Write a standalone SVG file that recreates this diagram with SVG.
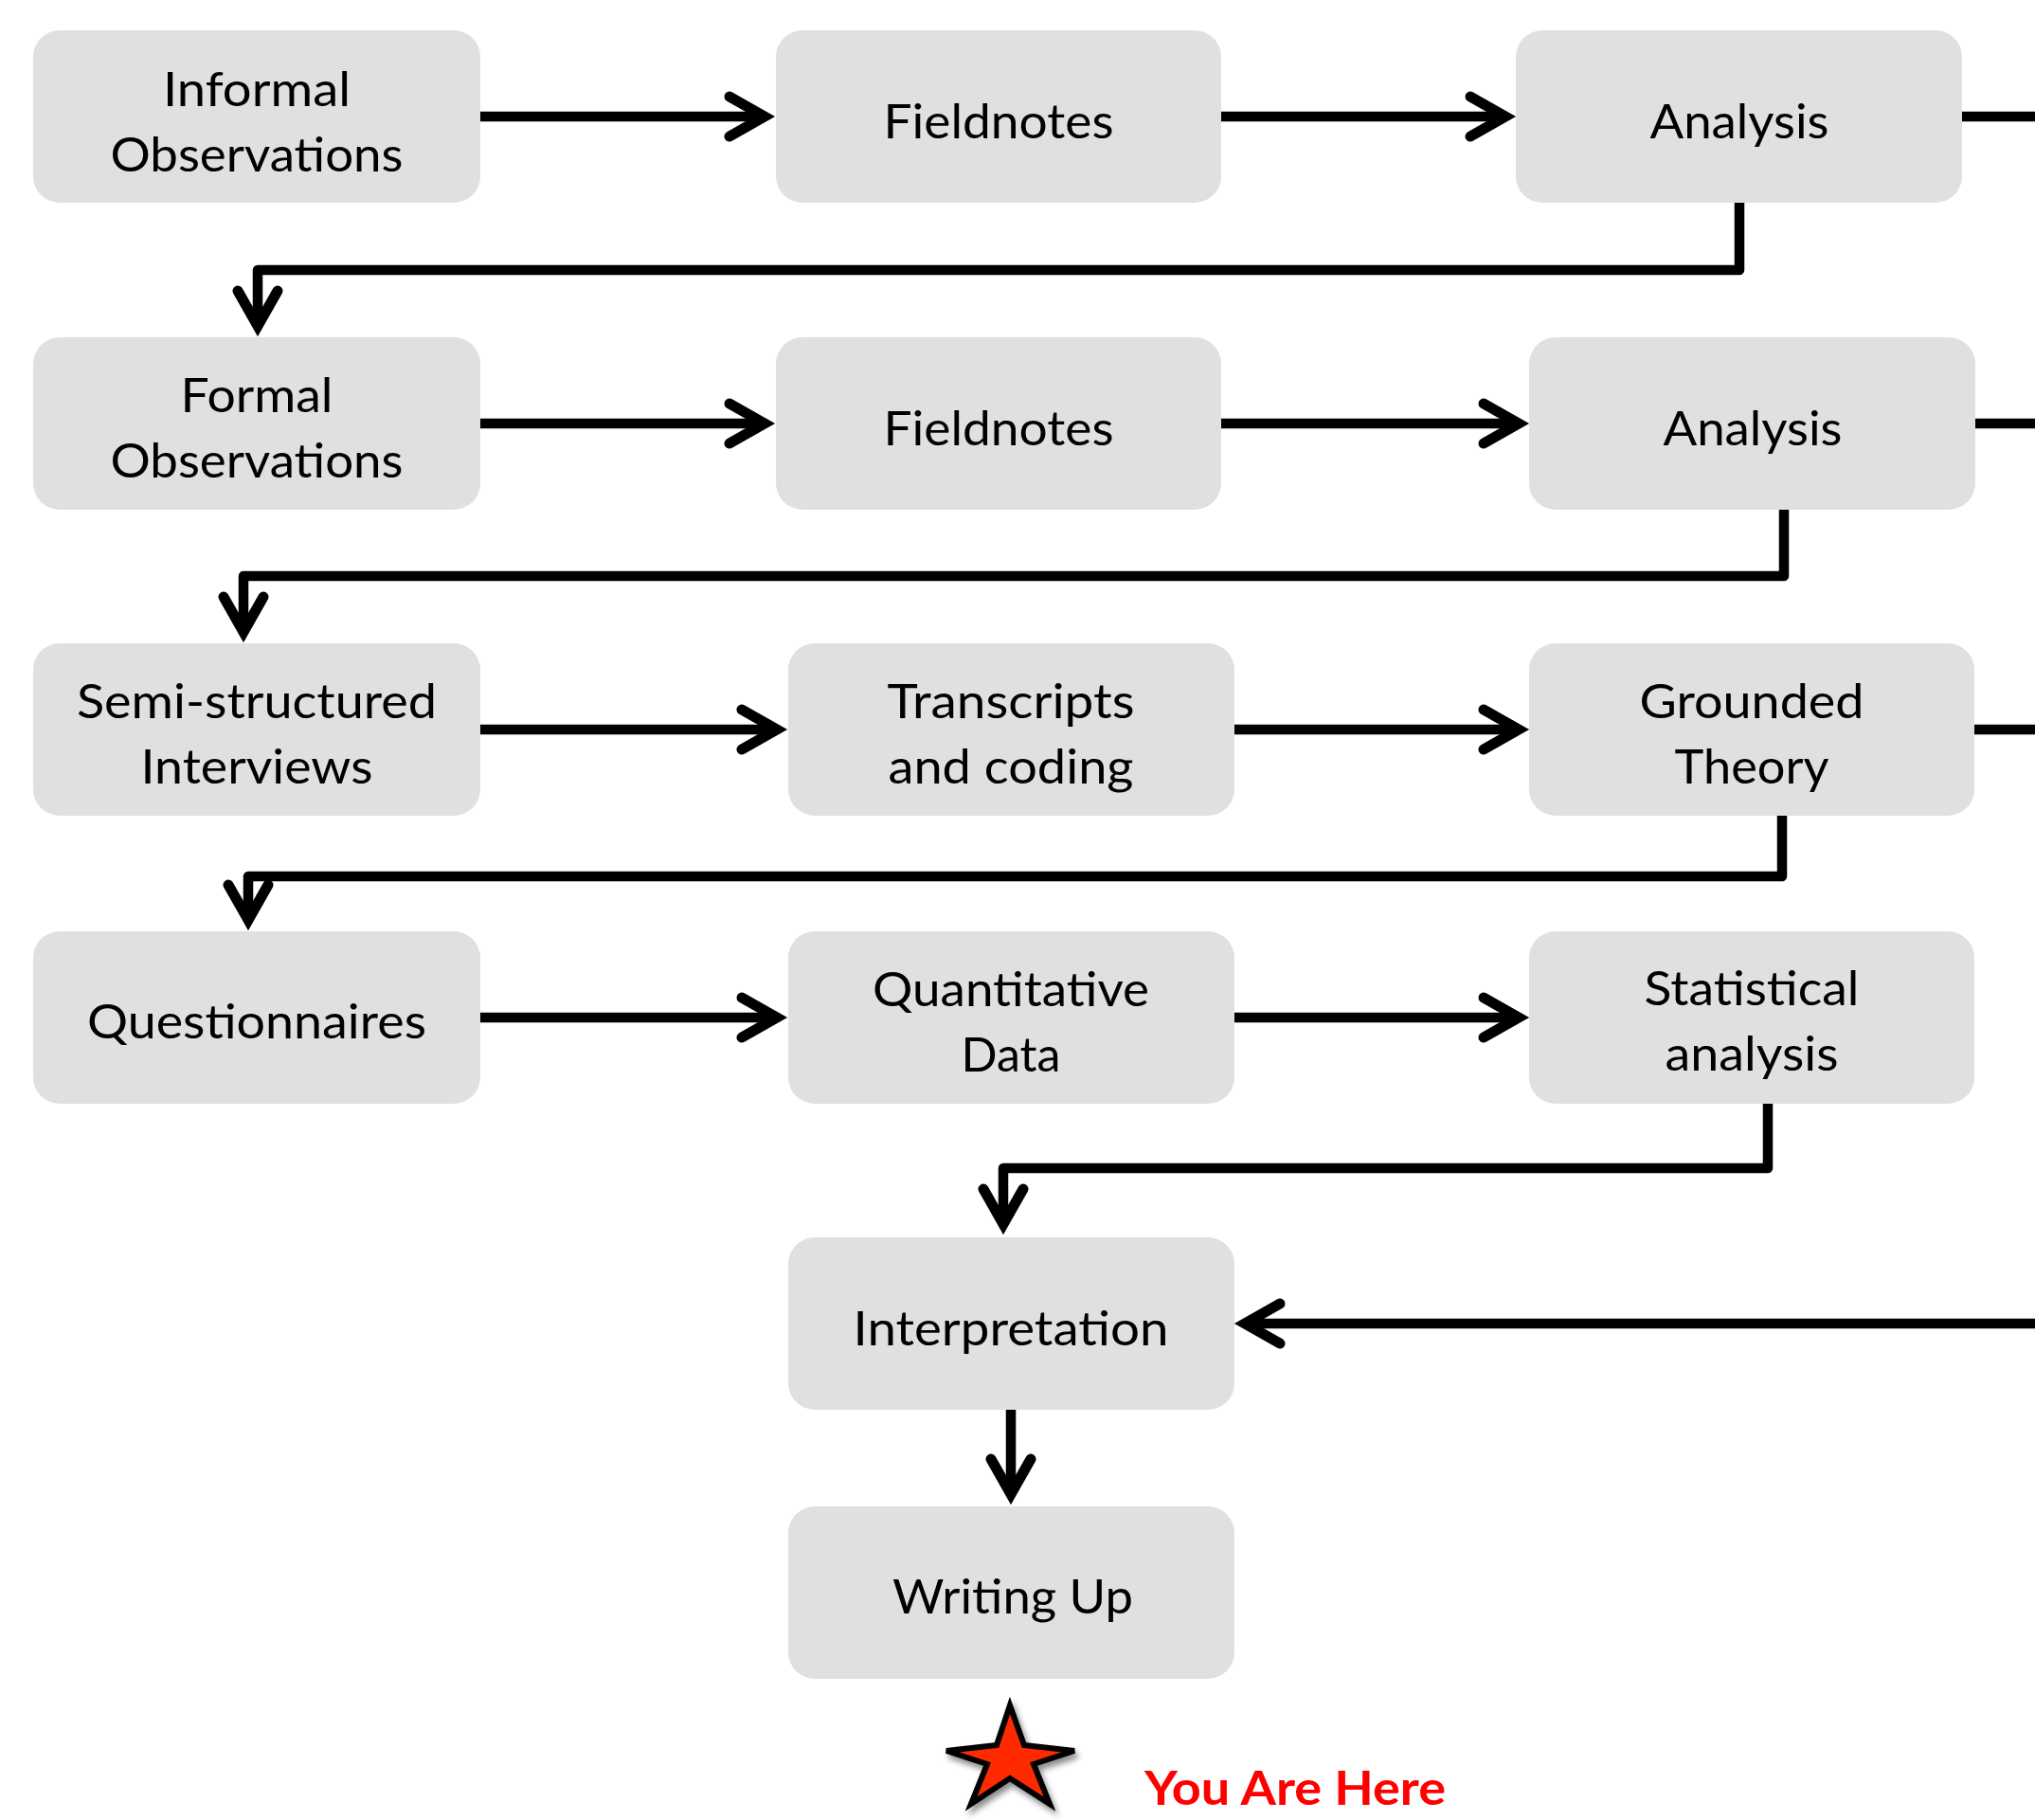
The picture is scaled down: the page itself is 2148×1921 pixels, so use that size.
<svg xmlns="http://www.w3.org/2000/svg" width="2148" height="1921" viewBox="0 0 2148 1921">
  <style>
    .box { fill: #E0E0E0; }
    .lbl { font-family: Lato, "Liberation Sans", sans-serif; font-size: 50px; fill: #000; text-anchor: middle; }
    .conn { fill: none; stroke: #000; stroke-width: 10.5; stroke-linejoin: round; stroke-linecap: butt; }
    .here { font-family: Lato, "Liberation Sans", sans-serif; font-size: 50px; font-weight: bold; fill: #FF0000; }
  </style>
  <defs>
    <marker id="ah" markerUnits="userSpaceOnUse" viewBox="-50 -30 70 60" refX="0" refY="0" markerWidth="70" markerHeight="60" orient="auto" overflow="visible">
      <path d="M-37,-21 L0,0 L-37,21" fill="none" stroke="#000" stroke-width="11" stroke-linecap="round" stroke-linejoin="miter"/>
    </marker>
    <filter id="sh" x="-20%" y="-20%" width="150%" height="150%">
      <feDropShadow dx="3" dy="5" stdDeviation="3" flood-color="#000" flood-opacity="0.45"/>
    </filter>
  </defs>

  <g id="connectors">
    <line class="conn" x1="507" y1="123" x2="807" y2="123" marker-end="url(#ah)"/>
    <line class="conn" x1="1289" y1="123" x2="1589" y2="123" marker-end="url(#ah)"/>
    <line class="conn" x1="2071" y1="123" x2="2148" y2="123"/>
    <path class="conn" d="M1836,214 V285 H272 V344" marker-end="url(#ah)"/>

    <line class="conn" x1="507" y1="447" x2="807" y2="447" marker-end="url(#ah)"/>
    <line class="conn" x1="1289" y1="447" x2="1603" y2="447" marker-end="url(#ah)"/>
    <line class="conn" x1="2085" y1="447" x2="2148" y2="447"/>
    <path class="conn" d="M1883,538 V608 H257 V667" marker-end="url(#ah)"/>

    <line class="conn" x1="507" y1="770" x2="820" y2="770" marker-end="url(#ah)"/>
    <line class="conn" x1="1303" y1="770" x2="1603" y2="770" marker-end="url(#ah)"/>
    <line class="conn" x1="2084" y1="770" x2="2148" y2="770"/>
    <path class="conn" d="M1881,861 V925 H262 V971" marker-end="url(#ah)"/>

    <line class="conn" x1="507" y1="1074" x2="820" y2="1074" marker-end="url(#ah)"/>
    <line class="conn" x1="1303" y1="1074" x2="1603" y2="1074" marker-end="url(#ah)"/>
    <path class="conn" d="M1866,1164 V1233 H1059 V1292" marker-end="url(#ah)"/>

    <line class="conn" x1="2148" y1="1397" x2="1314" y2="1397" marker-end="url(#ah)"/>
    <line class="conn" x1="1067" y1="1488" x2="1067" y2="1577" marker-end="url(#ah)"/>
  </g>

  <g id="n1"><rect class="box" x="35" y="32" width="472" height="182" rx="28"/>
    <text class="lbl" x="271" y="112" textLength="198" lengthAdjust="spacingAndGlyphs">Informal</text>
    <text class="lbl" x="271" y="181" textLength="309" lengthAdjust="spacingAndGlyphs">Observations</text></g>
  <g id="n2"><rect class="box" x="819" y="32" width="470" height="182" rx="28"/>
    <text class="lbl" x="1054" y="146" textLength="243" lengthAdjust="spacingAndGlyphs">Fieldnotes</text></g>
  <g id="n3"><rect class="box" x="1600" y="32" width="471" height="182" rx="28"/>
    <text class="lbl" x="1836" y="146" textLength="189" lengthAdjust="spacingAndGlyphs">Analysis</text></g>

  <g id="n4"><rect class="box" x="35" y="356" width="472" height="182" rx="28"/>
    <text class="lbl" x="271" y="435" textLength="161" lengthAdjust="spacingAndGlyphs">Formal</text>
    <text class="lbl" x="271" y="504" textLength="309" lengthAdjust="spacingAndGlyphs">Observations</text></g>
  <g id="n5"><rect class="box" x="819" y="356" width="470" height="182" rx="28"/>
    <text class="lbl" x="1054" y="470" textLength="243" lengthAdjust="spacingAndGlyphs">Fieldnotes</text></g>
  <g id="n6"><rect class="box" x="1614" y="356" width="471" height="182" rx="28"/>
    <text class="lbl" x="1850" y="470" textLength="189" lengthAdjust="spacingAndGlyphs">Analysis</text></g>

  <g id="n7"><rect class="box" x="35" y="679" width="472" height="182" rx="28"/>
    <text class="lbl" x="271" y="758" textLength="380" lengthAdjust="spacingAndGlyphs">Semi-structured</text>
    <text class="lbl" x="271" y="827" textLength="245" lengthAdjust="spacingAndGlyphs">Interviews</text></g>
  <g id="n8"><rect class="box" x="832" y="679" width="471" height="182" rx="28"/>
    <text class="lbl" x="1067" y="758" textLength="261" lengthAdjust="spacingAndGlyphs">Transcripts</text>
    <text class="lbl" x="1067" y="827" textLength="259" lengthAdjust="spacingAndGlyphs">and coding</text></g>
  <g id="n9"><rect class="box" x="1614" y="679" width="470" height="182" rx="28"/>
    <text class="lbl" x="1849" y="758" textLength="237" lengthAdjust="spacingAndGlyphs">Grounded</text>
    <text class="lbl" x="1849" y="827" textLength="163" lengthAdjust="spacingAndGlyphs">Theory</text></g>

  <g id="n10"><rect class="box" x="35" y="983" width="472" height="182" rx="28"/>
    <text class="lbl" x="271" y="1096" textLength="358" lengthAdjust="spacingAndGlyphs">Questionnaires</text></g>
  <g id="n11"><rect class="box" x="832" y="983" width="471" height="182" rx="28"/>
    <text class="lbl" x="1067" y="1062" textLength="292" lengthAdjust="spacingAndGlyphs">Quantitative</text>
    <text class="lbl" x="1067" y="1131" textLength="105" lengthAdjust="spacingAndGlyphs">Data</text></g>
  <g id="n12"><rect class="box" x="1614" y="983" width="470" height="182" rx="28"/>
    <text class="lbl" x="1849" y="1061" textLength="227" lengthAdjust="spacingAndGlyphs">Statistical</text>
    <text class="lbl" x="1849" y="1130" textLength="183" lengthAdjust="spacingAndGlyphs">analysis</text></g>

  <g id="n13"><rect class="box" x="832" y="1306" width="471" height="182" rx="28"/>
    <text class="lbl" x="1067" y="1420" textLength="333" lengthAdjust="spacingAndGlyphs">Interpretation</text></g>
  <g id="n14"><rect class="box" x="832" y="1590" width="471" height="182" rx="28"/>
    <text class="lbl" x="1069" y="1703" textLength="254" lengthAdjust="spacingAndGlyphs">Writing Up</text></g>

  <g id="you-are-here">
    <polygon points="1066,1800 1081,1842 1134,1848 1091,1862 1108,1904 1066,1877 1025,1904 1042,1862 999,1848 1052,1842" fill="#FF2A00" stroke="#000" stroke-width="6" stroke-linejoin="miter" filter="url(#sh)"/>
    <text class="here" x="1208" y="1905" textLength="318" lengthAdjust="spacingAndGlyphs">You Are Here</text>
  </g>
</svg>
